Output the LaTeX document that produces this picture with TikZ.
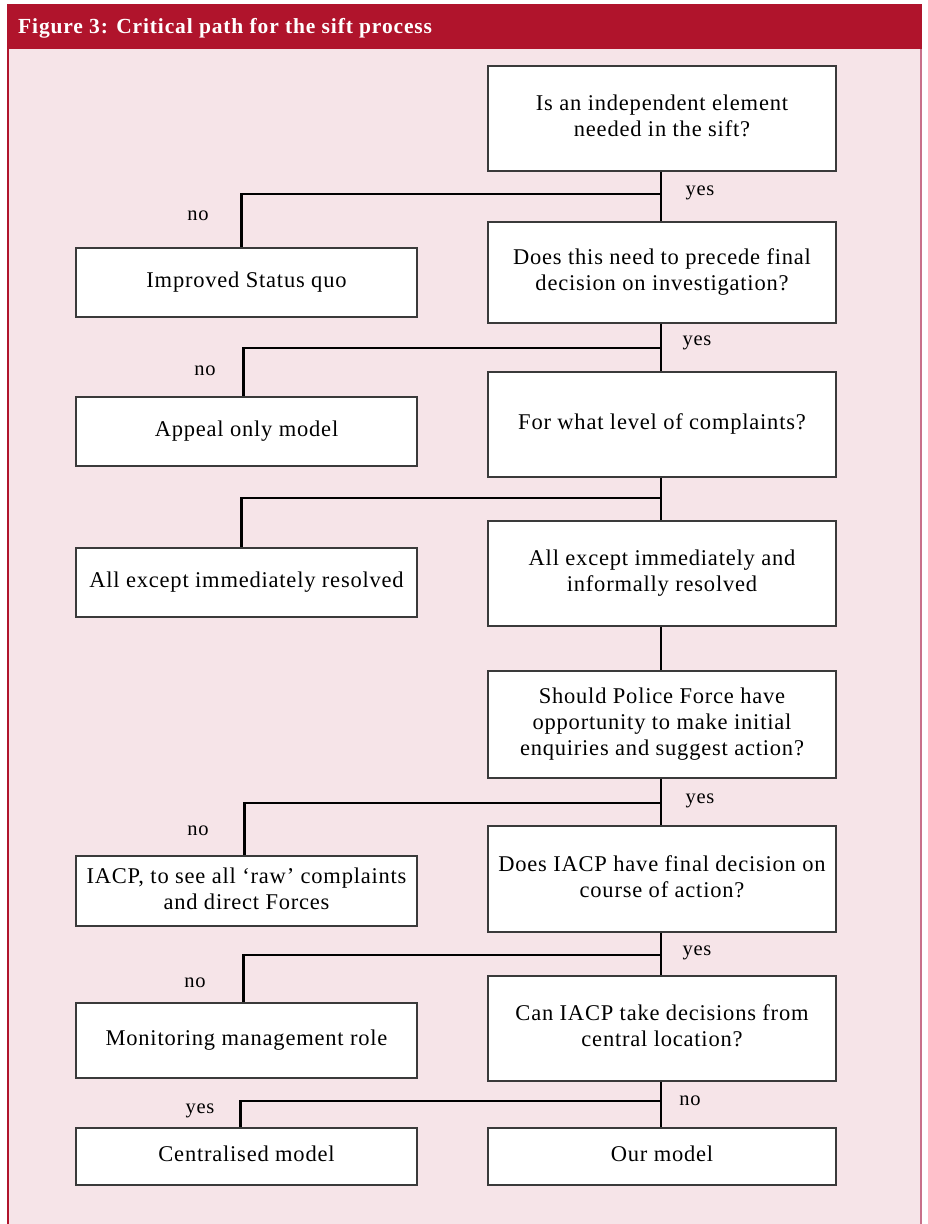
\documentclass[tikz,border=0pt]{standalone}
\usepackage{fontspec}
\setmainfont{Liberation Serif}
\newfontfamily\boxfont{Liberation Serif}[LetterSpace=3.5]
\newfontfamily\headfont{Liberation Serif}[LetterSpace=4]
\usetikzlibrary{positioning}
\definecolor{hdrred}{HTML}{B0142C}
\definecolor{panelpink}{HTML}{F6E4E8}
\definecolor{rimpink}{HTML}{C8708A}
\definecolor{boxline}{HTML}{3A3A3A}
% box text: centred lines, lifted slightly above the box centre
\newcommand\bxtxt[1]{\raisebox{5pt}{\begin{tabular}{@{}c@{}}#1\end{tabular}}}
\begin{document}
\begin{tikzpicture}[x=1pt,y=-1pt,
  box/.style={draw=boxline, line width=1.3pt, fill=white,
    inner sep=0pt, font=\boxfont\fontsize{22.5}{26}\selectfont},
  rbox/.style={box, minimum width=348pt},
  lbox/.style={box, minimum width=341pt},
  link/.style={draw=black, line width=2.4pt},
  lab/.style={font=\boxfont\fontsize{20.5}{24}\selectfont, inner sep=0pt}]
\useasboundingbox (0,0) rectangle (927,1224);
% panel and header band
\fill[panelpink] (8,4) rectangle (921,1224);
\draw[rimpink, line width=1.4pt] (921,4) -- (921,1224);
\draw[hdrred, line width=1.4pt] (8,4) -- (8,1224);
\fill[hdrred] (7,4) rectangle (922,49);
\node[anchor=base west, text=white, font=\headfont\bfseries\fontsize{21.5}{24}\selectfont, inner sep=0pt] (title) at (18,33) {Figure 3: Critical path for the sift process};

% right-hand column of questions
\node[rbox, minimum height=105pt] (q1) at (662,118.5) {\bxtxt{Is an independent element\\needed in the sift?}};
\node[rbox, minimum height=101pt] (q2) at (662,272.5) {\bxtxt{Does this need to precede final\\decision on investigation?}};
\node[rbox, minimum height=105pt] (q3) at (662,424.5) {\bxtxt{For what level of complaints?}};
\node[rbox, minimum height=105pt] (q4) at (662,573.5) {\bxtxt{All except immediately and\\informally resolved}};
\node[rbox, minimum height=107pt] (q5) at (662,724.5) {\bxtxt{Should Police Force have\\opportunity to make initial\\enquiries and suggest action?}};
\node[rbox, minimum height=106pt] (q6) at (662,879) {\bxtxt{Does IACP have final decision on\\course of action?}};
\node[rbox, minimum height=105pt] (q7) at (662,1028.5) {\bxtxt{Can IACP take decisions from\\central location?}};
\node[rbox, minimum height=57pt] (q8) at (662,1156.5) {\bxtxt{Our model}};

% left-hand column of outcomes
\node[lbox, minimum height=69pt] (o1) at (246.5,282.5) {\bxtxt{Improved Status quo}};
\node[lbox, minimum height=69pt] (o2) at (246.5,431.5) {\bxtxt{Appeal only model}};
\node[lbox, minimum height=69pt] (o3) at (246.5,582.5) {\bxtxt{All except immediately resolved}};
\node[lbox, minimum height=70pt] (o4) at (246.5,891) {\bxtxt{IACP, to see all ‘raw’ complaints\\and direct Forces}};
\node[lbox, minimum height=75pt] (o5) at (246.5,1040.5) {\bxtxt{Monitoring management role}};
\node[lbox, minimum height=57pt] (o6) at (246.5,1156.5) {\bxtxt{Centralised model}};

% main spine
\foreach \a/\b in {q1/q2,q2/q3,q3/q4,q4/q5,q5/q6,q6/q7,q7/q8}
  \draw[link] ([xshift=-1pt]\a.south) -- ([xshift=-1pt]\b.north);

% side branches
\draw[link] ([xshift=-1pt]q1.south |- 0,194) -| ([xshift=-5pt]o1.north);
\draw[link] ([xshift=-1pt]q2.south |- 0,348) -| ([xshift=-3pt]o2.north);
\draw[link] ([xshift=-1pt]q3.south |- 0,498) -| ([xshift=-5pt]o3.north);
\draw[link] ([xshift=-1pt]q5.south |- 0,803) -| ([xshift=-2pt]o4.north);
\draw[link] ([xshift=-1pt]q6.south |- 0,955) -| ([xshift=-3pt]o5.north);
\draw[link] ([xshift=-1pt]q7.south |- 0,1101) -| ([xshift=-6pt]o6.north);

% branch labels
\node[lab] (y1) at (700,193) {yes};
\node[lab] (n1) at (198,216) {no};
\node[lab] (y2) at (697,343) {yes};
\node[lab] (n2) at (205,371) {no};
\node[lab] (y3) at (700,801) {yes};
\node[lab] (n3) at (198,831) {no};
\node[lab] (y4) at (697,953) {yes};
\node[lab] (n4) at (195,983) {no};
\node[lab] (n5) at (690,1101) {no};
\node[lab] (y5) at (200,1111) {yes};
\end{tikzpicture}
\end{document}
